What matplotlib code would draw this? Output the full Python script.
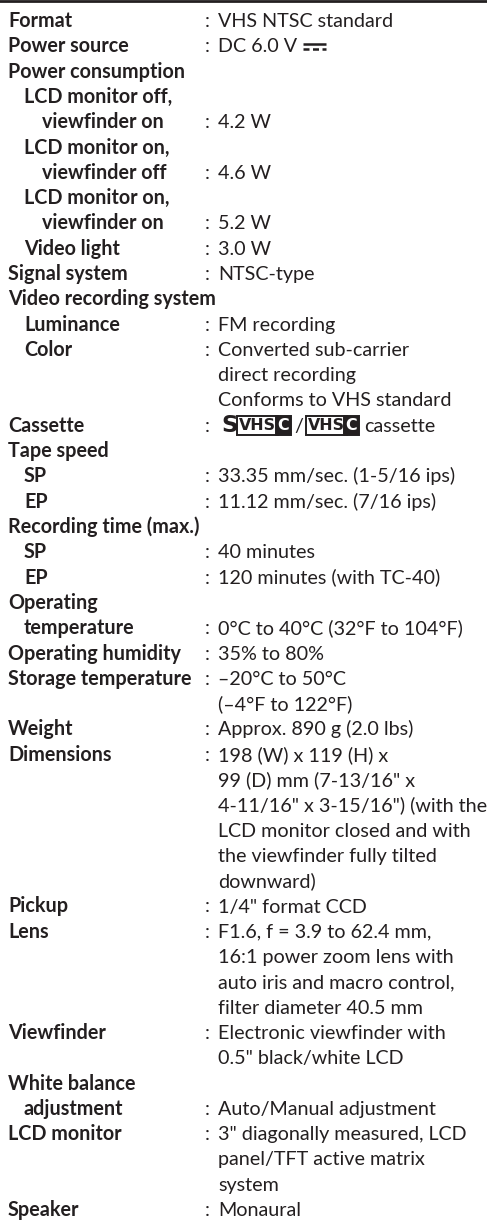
import matplotlib
matplotlib.use('Agg')
import matplotlib.pyplot as plt

# --- DATA ---
# indent level of the label column (0 = heading, 1 = sub item, 2 = wrapped sub item)
INDENTS = [0, 0, 0, 1, 2, 1, 2, 1, 2, 1, 0, 0, 1, 1, 1, 1, 0, 0, 1, 1, 0, 1, 1, 0, 1,
           0, 0, 0, 0, 0, 0, 0, 0, 0, 0, 0, 0, 0, 0, 0, 0, 0, 0, 1, 0, 0, 0, 0]
LABELS = [
    "Format", "Power source", "Power consumption", "LCD monitor off,", "viewfinder on",
    "LCD monitor on,", "viewfinder off", "LCD monitor on,", "viewfinder on", "Video light",
    "Signal system", "Video recording system", "Luminance", "Color", "", "",
    "Cassette", "Tape speed", "SP", "EP", "Recording time (max.)", "SP", "EP",
    "Operating", "temperature", "Operating humidity", "Storage temperature", "",
    "Weight", "Dimensions", "", "", "", "", "", "Pickup", "Lens", "", "", "",
    "Viewfinder", "", "White balance", "adjustment", "LCD monitor", "", "", "Speaker",
]
VALUES = [
    "VHS NTSC standard", "DC 6.0 V", None, None, "4.2 W",
    None, "4.6 W", None, "5.2 W", "3.0 W",
    "NTSC-type", None, "FM recording", "Converted sub-carrier", "direct recording",
    "Conforms to VHS standard",
    "CASSETTE", None, "33.35 mm/sec. (1-5/16 ips)", "11.12 mm/sec. (7/16 ips)", None,
    "40 minutes", "120 minutes (with TC-40)",
    None, "0\u00b0C to 40\u00b0C (32\u00b0F to 104\u00b0F)", "35% to 80%",
    "\u201320\u00b0C to 50\u00b0C", "(\u20134\u00b0F to 122\u00b0F)",
    "Approx. 890 g (2.0 lbs)", "198 (W) x 119 (H) x", "99 (D) mm (7-13/16\" x",
    "4-11/16\" x 3-15/16\") (with the", "LCD monitor closed and with",
    "the viewfinder fully tilted", "downward)", "1/4\" format CCD",
    "F1.6, f = 3.9 to 62.4 mm,", "16:1 power zoom lens with",
    "auto iris and macro control,", "filter diameter 40.5 mm",
    "Electronic viewfinder with", "0.5\" black/white LCD", None,
    "Auto/Manual adjustment", "3\" diagonally measured, LCD",
    "panel/TFT active matrix", "system", "Monaural",
]

# --- LAYOUT ---
W, H = 487, 1223
FONT = ['Lato', 'DejaVu Sans']
FS = 14.2
INK = '#231f20'
Y0, STEP = 27, 25.3
X_LABEL = [8, 24, 42]
X_COLON, X_VALUE = 205, 218

fig = plt.figure(figsize=(W / 100, H / 100), dpi=100)
ax = fig.add_axes([0, 0, 1, 1])
ax.set_xlim(0, W)
ax.set_ylim(H, 0)
ax.axis('off')

# rule on top
ax.axhline(1.4, color=INK, lw=2.0)


def after(prev, y, s, gap, **kw):
    # place a text piece right after the previous one, on baseline y
    return ax.annotate(s, xy=(1, y), xycoords=(prev, 'data'), xytext=(gap, 0),
                       textcoords='offset points', va='baseline', ha='left', **kw)


dc_text = None
for i, (ind, lab, val) in enumerate(zip(INDENTS, LABELS, VALUES)):
    y = Y0 + i * STEP
    if lab:
        ax.text(X_LABEL[ind], y, lab, family=FONT, fontsize=FS, fontweight='bold',
                color=INK, va='baseline', ha='left')
    if val is None:
        continue
    if lab:
        ax.text(X_COLON, y, ':', family=FONT, fontsize=FS, color=INK, va='baseline')
    if val == "CASSETTE":
        # S-VHS-C / VHS-C logos drawn as text pieces
        lf = FS - 2.8
        box = dict(boxstyle='square,pad=0.12', fc='white', ec=INK, lw=1.4)
        fill = dict(boxstyle='square,pad=0.12', fc=INK, ec=INK, lw=1.4)
        logo = dict(family='DejaVu Sans', fontsize=lf, fontweight='bold')
        yl = y - 1.5
        t = ax.text(X_VALUE + 3, y, 'S', family='DejaVu Sans', fontsize=FS + 2.5,
                    fontweight='black', color=INK, va='baseline')
        t = after(t, yl, 'VHS', 1.2, color=INK, bbox=box, **logo)
        t = after(t, yl, 'C', 0.8, color='white', bbox=fill, **logo)
        t = after(t, y, '/', 3.5, family=FONT, fontsize=FS, color=INK)
        t = after(t, yl, 'VHS', 3.5, color=INK, bbox=box, **logo)
        t = after(t, yl, 'C', 0.8, color='white', bbox=fill, **logo)
        after(t, y, 'cassette', 5, family=FONT, fontsize=FS, color=INK)
    else:
        t = ax.text(X_VALUE, y, val, family=FONT, fontsize=FS, color=INK, va='baseline', ha='left')
        if val.startswith("DC "):
            dc_text = (t, y)

# direct current sign (no installed font has the glyph), drawn after "DC 6.0 V"
fig.canvas.draw()
t, y = dc_text
bb = t.get_window_extent().transformed(ax.transData.inverted())
x0 = bb.x1 + 6
ax.plot([x0, x0 + 23], [y - 8, y - 8], color=INK, lw=1.8, solid_capstyle='butt')
ax.plot([x0, x0 + 23], [y - 3, y - 3], color=INK, lw=1.8, ls=(0, (2.4, 1.4)),
        dash_capstyle='butt')

fig.savefig('out.png', dpi=100)
